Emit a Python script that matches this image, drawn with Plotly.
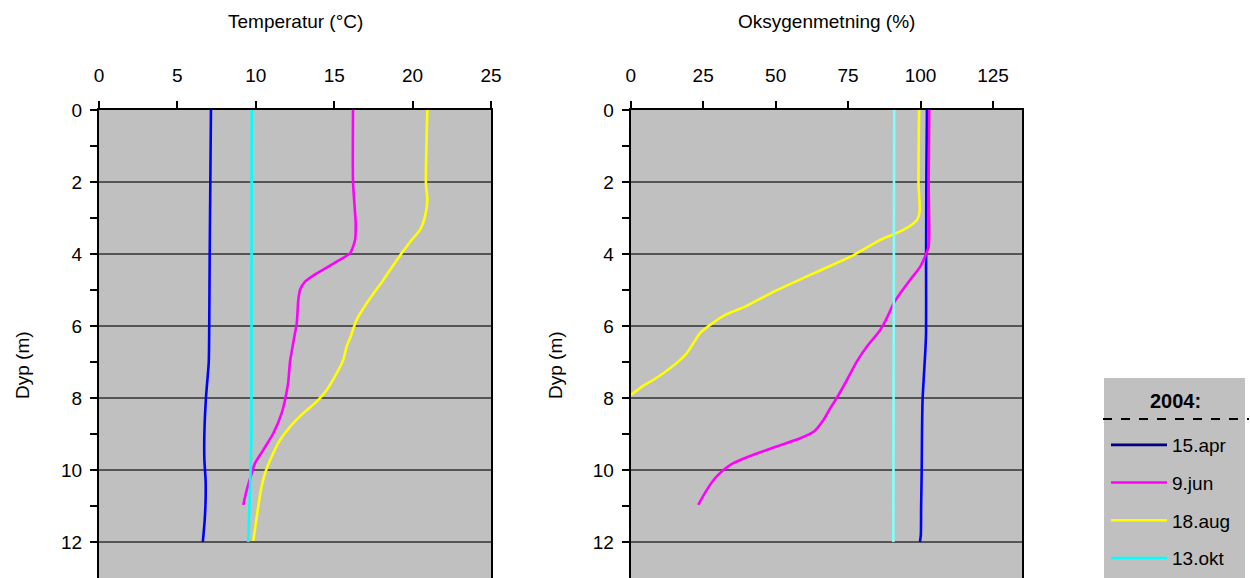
import plotly.graph_objects as go

# ---------------- data ----------------
temp_apr_depth = [0, 2, 4, 6, 7, 8, 9, 9.7, 10.3, 10.8, 11.4, 12]
temp_apr = [7.14, 7.1, 7.06, 7.03, 7.0, 6.82, 6.72, 6.72, 6.8, 6.8, 6.74, 6.62]

temp_jun_depth = [0, 2, 3.15, 3.61, 3.98, 4.21, 4.54, 4.77, 5.0, 5.28, 5.93, 6.34, 7.0, 7.56,
                  8.06, 8.42, 8.98, 9.44, 9.81, 10.09, 10.56, 10.97]
temp_jun = [16.2, 16.2, 16.37, 16.33, 16.01, 15.16, 13.88, 13.14, 12.82, 12.71, 12.61, 12.44, 12.18,
            12.07, 11.86, 11.65, 11.12, 10.48, 9.95, 9.74, 9.42, 9.2]

temp_aug_depth = [0, 2.04, 2.5, 2.96, 3.33, 3.61, 3.98, 4.72, 5.37, 5.83, 6.34, 6.57, 6.94, 7.31,
                  7.78, 8.1, 8.42, 8.8, 9.17, 9.63, 10.09, 10.46, 11.0, 11.97]
temp_aug = [20.94, 20.85, 20.94, 20.79, 20.47, 19.94, 19.3, 18.13, 17.07, 16.43, 16.01, 15.79, 15.58,
            15.16, 14.52, 13.88, 13.03, 12.18, 11.54, 11.01, 10.59, 10.37, 10.16, 9.84]

temp_okt_depth = [0, 9, 12]
temp_okt = [9.74, 9.72, 9.52]

oxy_apr_depth = [0, 2, 4.35, 6.2, 6.76, 8.05, 9, 10, 11, 11.8, 12]
oxy_apr = [102.2, 102.0, 101.9, 101.9, 101.6, 100.7, 100.5, 100.4, 100.2, 100.1, 99.8]

oxy_jun_depth = [0, 2.04, 3.43, 3.8, 3.98, 4.35, 4.72, 5.09, 5.37, 5.74, 6.11, 6.57, 6.99,
                 7.5, 8.0, 8.29, 8.61, 8.94, 9.12, 9.31, 9.54, 9.81, 10.0, 10.23, 10.56, 10.97]
oxy_jun = [103.0, 102.8, 103.0, 102.8, 102.0, 99.9, 96.4, 93.0, 90.7, 88.6, 86.1, 81.5, 78.0,
           74.6, 71.1, 68.8, 66.5, 63.1, 58.5, 51.6, 43.5, 35.4, 32.0, 29.1, 26.2, 23.3]

oxy_aug_depth = [0, 2.04, 2.8, 3.06, 3.33, 3.61, 4.03, 4.54, 5.05, 5.46, 5.69, 5.97, 6.2, 6.48,
                 6.76, 6.99, 7.41, 7.69, 7.92]
oxy_aug = [99.5, 99.3, 99.7, 98.7, 94.1, 86.1, 76.9, 63.1, 49.2, 39.5, 32.6, 27.4, 23.9, 21.6,
           19.3, 16.4, 9.5, 3.8, 0.0]

oxy_okt_depth = [0, 12]
oxy_okt = [90.9, 90.6]

series_names = ["15.apr", "9.jun", "18.aug", "13.okt"]
temp_ticks = [0, 5, 10, 15, 20, 25]
oxy_ticks = [0, 25, 50, 75, 100, 125]
depth_ticks = [0, 2, 4, 6, 8, 10, 12]
depth_minor_ticks = [1, 3, 5, 7, 9, 11]

# ---------------- styling ----------------
FONT = "Liberation Sans, Arial, sans-serif"
FS = 19
line_colors = ["#0000FF", "#FF00FF", "#FFFF00", "#00FFFF"]
oxy_colors = ["#0000FF", "#FF00FF", "#FFFF00", "#80FFFF"]
legend_colors = ["#000080", "#FF00FF", "#FFFF00", "#00FFFF"]
W, H = 1250, 578

fig = go.Figure()

temp_sets = [(temp_apr, temp_apr_depth), (temp_jun, temp_jun_depth),
             (temp_aug, temp_aug_depth), (temp_okt, temp_okt_depth)]
oxy_sets = [(oxy_apr, oxy_apr_depth), (oxy_jun, oxy_jun_depth),
            (oxy_aug, oxy_aug_depth), (oxy_okt, oxy_okt_depth)]

for i, (xv, yv) in enumerate(temp_sets):
    fig.add_trace(go.Scatter(x=xv, y=yv, mode="lines", xaxis="x", yaxis="y",
                             line=dict(color=line_colors[i], width=2.6, shape="spline", smoothing=0.6),
                             showlegend=False, name=series_names[i]))
for i, (xv, yv) in enumerate(oxy_sets):
    fig.add_trace(go.Scatter(x=xv, y=yv, mode="lines", xaxis="x2", yaxis="y2",
                             line=dict(color=oxy_colors[i], width=2.6, shape="spline", smoothing=0.6),
                             showlegend=False, name=series_names[i]))
for i, name in enumerate(series_names):
    fig.add_trace(go.Scatter(x=[None], y=[None], mode="lines", name=name, xaxis="x", yaxis="y",
                             legendgroup=name, line=dict(color=legend_colors[i], width=2.6)))

xl0, xl1 = 99 / W, 491 / W
xr0, xr1 = 630.7 / W, 1022 / W
ytop = 1 - 110 / H

common_x = dict(side="top", showline=True, linecolor="black", linewidth=2, mirror=True,
                ticks="outside", ticklen=7, tickwidth=2, tickcolor="black",
                showgrid=False, zeroline=False, ticklabelstandoff=11, automargin=False,
                tickfont=dict(family=FONT, size=FS, color="black"))
common_y = dict(autorange=False, range=[13, 0], showline=True, linecolor="black", linewidth=2,
                mirror=True, ticks="outside", ticklen=7, tickwidth=2, tickcolor="black",
                tickvals=depth_ticks, showgrid=True, gridcolor="#555555", gridwidth=1.6,
                zeroline=False, ticklabelstandoff=4, automargin=False,
                tickfont=dict(family=FONT, size=FS, color="black"),
                minor=dict(tickvals=depth_minor_ticks, ticks="outside", ticklen=7,
                           tickwidth=2, tickcolor="black", showgrid=False))

def ann(text, x, y, size=FS, angle=0):
    return dict(text=text, x=x, y=y, xref="paper", yref="paper", xanchor="center",
                yanchor="middle", showarrow=False, textangle=angle,
                font=dict(family=FONT, size=size, color="black"))

fig.update_layout(
    template="none",
    width=W, height=H, autosize=False,
    margin=dict(l=0, r=0, t=0, b=0, pad=0, autoexpand=False),
    paper_bgcolor="white",
    plot_bgcolor="#C0C0C0",
    font=dict(family=FONT, size=FS, color="black"),
    xaxis=dict(common_x, domain=[xl0, xl1], range=[0, 25], tickvals=temp_ticks, anchor="y"),
    yaxis=dict(common_y, domain=[0, ytop], anchor="x"),
    xaxis2=dict(common_x, domain=[xr0, xr1], range=[0, 135], tickvals=oxy_ticks, anchor="y2"),
    yaxis2=dict(common_y, domain=[0, ytop], anchor="x2"),
    showlegend=True,
    legend=dict(x=1106 / W, y=1 - 426 / H, xanchor="left", yanchor="top",
                bgcolor="rgba(0,0,0,0)", borderwidth=0,
                font=dict(family=FONT, size=FS, color="black"),
                tracegroupgap=10, itemwidth=56),
    shapes=[
        dict(type="rect", xref="paper", yref="paper", x0=1104 / W, x1=1245 / W,
             y0=0, y1=1 - 378 / H, fillcolor="#C0C0C0", line=dict(width=0), layer="below"),
        dict(type="line", xref="paper", yref="paper", x0=1103 / W, x1=1 - 1 / W,
             y0=1 - 419 / H, y1=1 - 419 / H, line=dict(color="black", width=2, dash="dash")),
    ],
    annotations=[
        ann("Temperatur (°C)", (xl0 + xl1) / 2, 1 - 21 / H),
        ann("Oksygenmetning (%)", (xr0 + xr1) / 2, 1 - 21 / H),
        ann("Dyp (m)", 22 / W, 1 - 365 / H, angle=-90),
        ann("Dyp (m)", 555 / W, 1 - 365 / H, angle=-90),
        ann("<b>2004:</b>", 1175 / W, 1 - 401 / H, size=20),
    ],
)

post = "document.body.style.margin='0';document.body.style.overflow='hidden';"
fig.write_html("out.html", config={"displayModeBar": False}, post_script=post)
